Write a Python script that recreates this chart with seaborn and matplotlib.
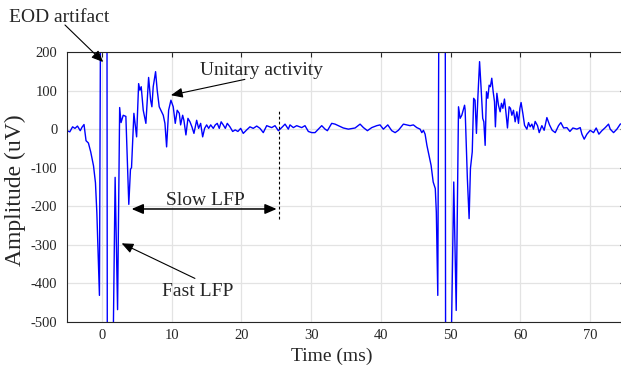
import numpy as np
import pandas as pd
import seaborn as sns
import matplotlib.pyplot as plt

# dados (tempo em ms, amplitude em uV)
t_ms = [-5.0, -4.6, -4.2, -3.86, -3.5, -3.1, -2.85, -2.56, -2.27, -1.93, -1.6, -1.2, -0.92, -0.72,
        -0.35, 0.0, 0.4, 0.7, 0.8, 1.4, 1.9, 2.25, 2.55, 2.75, 3.06, 3.44, 3.86, 4.1, 4.25, 4.59,
        4.98, 5.27, 5.45, 5.64, 5.93, 6.31, 6.7, 6.99, 7.17, 7.36, 7.7, 7.93, 8.22, 8.46, 8.8,
        9.04, 9.28, 9.57, 9.9, 10.23, 10.52, 10.8, 11.1, 11.29, 11.58, 11.76, 12.05, 12.34, 12.63,
        12.91, 13.2, 13.59, 13.87, 14.16, 14.45, 14.73, 15.02, 15.31, 15.6, 15.97, 16.26, 16.54,
        16.83, 17.1, 17.4, 17.7, 17.98, 18.36, 18.75, 19.12, 19.5, 19.9, 20.27, 20.76, 21.23,
        21.7, 22.2, 22.67, 23.14, 23.63, 24.35, 24.82, 25.3, 25.78, 26.26, 26.73, 26.97, 27.45,
        27.93, 28.65, 29.12, 29.6, 30.08, 30.56, 31.03, 31.52, 32.0, 32.33, 32.95, 33.43, 33.9,
        34.62, 35.34, 36.3, 37.02, 37.5, 38.07, 38.69, 39.41, 39.88, 40.36, 40.99, 41.56, 42.04,
        42.51, 43.23, 43.71, 44.19, 44.66, 45.15, 45.62, 45.87, 46.1, 46.34, 46.6, 46.9, 47.2,
        47.5, 47.8, 47.95, 48.16, 48.5, 48.9, 49.2, 49.3, 49.8, 50.45, 50.8, 51.13, 51.36, 51.6,
        52.0, 52.08, 52.4, 52.65, 52.84, 53.1, 53.3, 53.5, 53.7, 53.9, 54.15, 54.37, 54.6, 54.76,
        54.95, 55.14, 55.33, 55.52, 55.7, 55.9, 56.1, 56.29, 56.42, 56.63, 56.86, 57.1, 57.29,
        57.49, 57.72, 57.92, 58.15, 58.39, 58.58, 58.78, 59.01, 59.25, 59.5, 59.73, 59.93, 60.1,
        60.36, 60.6, 60.93, 61.17, 61.4, 61.65, 61.88, 62.12, 62.46, 62.7, 63.08, 63.41, 63.8,
        64.18, 64.56, 65.0, 65.47, 65.8, 66.2, 66.67, 67.1, 67.53, 68.1, 68.58, 68.82, 69.15,
        69.54, 70.01, 70.49, 70.87, 71.26, 71.69, 72.17, 72.64, 72.88, 73.36, 73.84, 74.32, 75.0]
amp_uv = [-4, -7, 6, 2, 8, -4, 5, 12, -30, -36, -59, -95, -139, -217,
          -431, 1200, 1000, 900, -1000, -900, -125, -468, 56, 17, 36, 33, -195, -104, -100, 41,
          -20, 118, 101, 110, 49, 15, 134, 75, 58, 110, 149, 101, 58, 49, 36,
          15, -46, 49, 75, 58, 15, 49, 41, 11, 36, 23, -15, 28, 19,
          6, -11, 23, 2, 15, -20, 2, 11, 2, 11, 2, 11, 15,
          2, 19, 11, 2, 15, 6, -6, -2, -6, 2, -11, -2, 6,
          2, 8, 2, -9, 9, 4, 9, -4, 4, 13, 0, 11, 4,
          9, 4, 9, -6, -9, -9, 0, 9, 0, -4, 15, 13, 9,
          3, 0, 3, 13, 4, -4, 4, 9, 11, 0, 11, -4, -9,
          -3, 13, 11, 9, 11, 4, 0, -9, -3, -13, -42, -68, -94,
          -137, -154, -215, -431, 1200, 1000, 900, -1000, -900, -137, -470, 58, 28, 36,
          62, 50, -128, -232, -102, -59, 80, 75, -11, 80, 175, 106, 28, 19,
          -42, 97, 80, 114, 110, 132, 97, 71, 6, 93, 62, 45, 67,
          54, 78, 45, 3, 58, 54, 36, 49, 19, 45, 15, 54, 69,
          40, 10, 0, 17, 6, 13, 0, 20, 9, -9, 9, -3, 30,
          11, -3, -9, 9, 17, 3, 4, -6, 3, 0, 4, -13, -26,
          -13, -3, -9, 3, -13, -4, 4, 13, 0, -9, 0, 13, 17]

x_ticks = [0, 10, 20, 30, 40, 50, 60, 70]
y_ticks = [-500, -400, -300, -200, -100, 0, 100, 200]

df = pd.DataFrame({'Tempo': t_ms, 'Amplitude': amp_uv})

sns.set_style('white')
plt.rcParams['font.family'] = ['Liberation Serif', 'DejaVu Serif']
plt.rcParams['axes.unicode_minus'] = False

fig = plt.figure(figsize=(6.21, 3.73), dpi=100)
ax = fig.add_axes([67 / 621, 1 - 322 / 373, 558 / 621, 270 / 373])

sns.lineplot(data=df, x='Tempo', y='Amplitude', ax=ax, color='#0000ff',
             linewidth=1.0, sort=False, estimator=None)

ax.set_xlim(-5, 75)
ax.set_ylim(-500, 200)
ax.set_xticks(x_ticks)
ax.set_yticks(y_ticks)
ax.grid(True, color='#e3e3e3', linewidth=0.9)
ax.set_axisbelow(True)
for s in ax.spines.values():
    s.set_color('#262626')
    s.set_linewidth(0.8)
ax.tick_params(direction='in', top=True, right=True, length=3.5, width=0.8,
               color='#262626', labelsize=10.5, labelcolor='#262626')
ax.tick_params(axis='y', pad=7)
ax.tick_params(axis='x', pad=5)
ax.set_xlabel('Time (ms)', fontsize=14, color='#262626')
ax.xaxis.set_label_coords(0.475, -0.095, transform=ax.transAxes)
ax.set_ylabel('Amplitude (uV)', fontsize=17, color='#262626')
ax.yaxis.set_label_coords(-0.074, 0.49, transform=ax.transAxes)

# anotacoes
seta = dict(arrowstyle='-|>,head_length=0.7,head_width=0.3', color='black', lw=0.8,
            shrinkA=0, shrinkB=0)
fig.text(9 / 621, 1 - 22 / 373, 'EOD artifact', fontsize=14, va='baseline', ha='left')
ax.annotate('', xy=(0.19, 174), xytext=(65, 373 - 25), textcoords='figure pixels',
            arrowprops=seta, annotation_clip=False)

ax.text(22.9, 140, 'Unitary activity', fontsize=14, ha='center', va='baseline')
ax.annotate('', xy=(9.9, 88), xytext=(20.5, 129), arrowprops=seta)

ax.text(14.8, -197, 'Slow LFP', fontsize=14, ha='center', va='baseline')
ax.annotate('', xy=(4.26, -207), xytext=(25.06, -207),
            arrowprops=dict(arrowstyle='<|-|>,head_length=0.7,head_width=0.3', color='black',
                            lw=1.1, shrinkA=0, shrinkB=0))
ax.vlines(25.4, -232, 51, colors='black', linestyles=(0, (2.5, 2)), linewidth=0.8)

ax.text(13.8, -433, 'Fast LFP', fontsize=14, ha='center', va='baseline')
ax.annotate('', xy=(2.83, -296), xytext=(13.34, -387), arrowprops=seta)

plt.savefig('out.png', dpi=100)
